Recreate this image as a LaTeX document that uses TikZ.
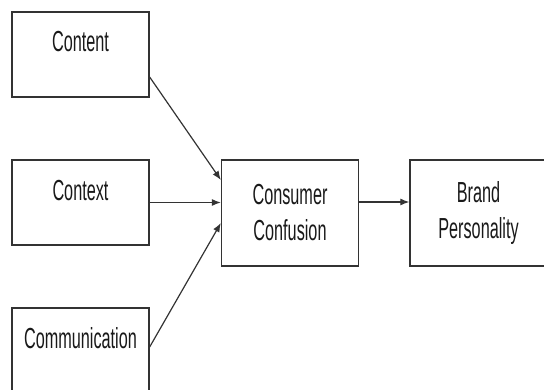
\documentclass[tikz,border=0pt]{standalone}
\usepackage{fontspec}
\setmainfont{Liberation Sans}[FakeStretch=0.56]
\usetikzlibrary{arrows.meta}
\tikzset{
  >={Latex[length=9pt,width=7pt]},
  {base box/.style} ={draw=black!80, line width=1.3pt, rectangle,
                      minimum width=137pt, inner xsep=0, text=black!90,
                      font=\fontsize{29}{39}\selectfont},
  {in box/.style} ={base box, inner ysep=0, text height=40pt, text depth=45pt},
  {out box/.style} ={base box, align=center, minimum height=106pt,
                     font=\fontsize{29}{36}\selectfont},
  {link/.style} ={->, draw=black!80, line width=1.2pt},
}
\begin{document}
\begin{tikzpicture}[x=1pt,y=1pt]
\useasboundingbox (0,0) rectangle (544,389);
\node[in box] (content) at (80.5,334.5) {Content};
\node[in box] (context) at (80.5,186.5) {Context};
\node[in box] (comm) at (80.5,38.5) {Communication};
\node[out box] (confusion) at (290,176) {Consumer\\Confusion};
\node[out box] (brand) at (478.5,176) {Brand\\Personality};
\draw[link] ([yshift=-22.5pt]content.east) -- ([yshift=33pt]confusion.west);
\draw[link] (context.east) -- (context.east -| confusion.west);
\draw[link] ([yshift=3.5pt]comm.east) -- ([yshift=-10pt]confusion.west);
\draw[link] ([yshift=11pt]confusion.east) -- ([yshift=11pt]brand.west);
\end{tikzpicture}
\end{document}
